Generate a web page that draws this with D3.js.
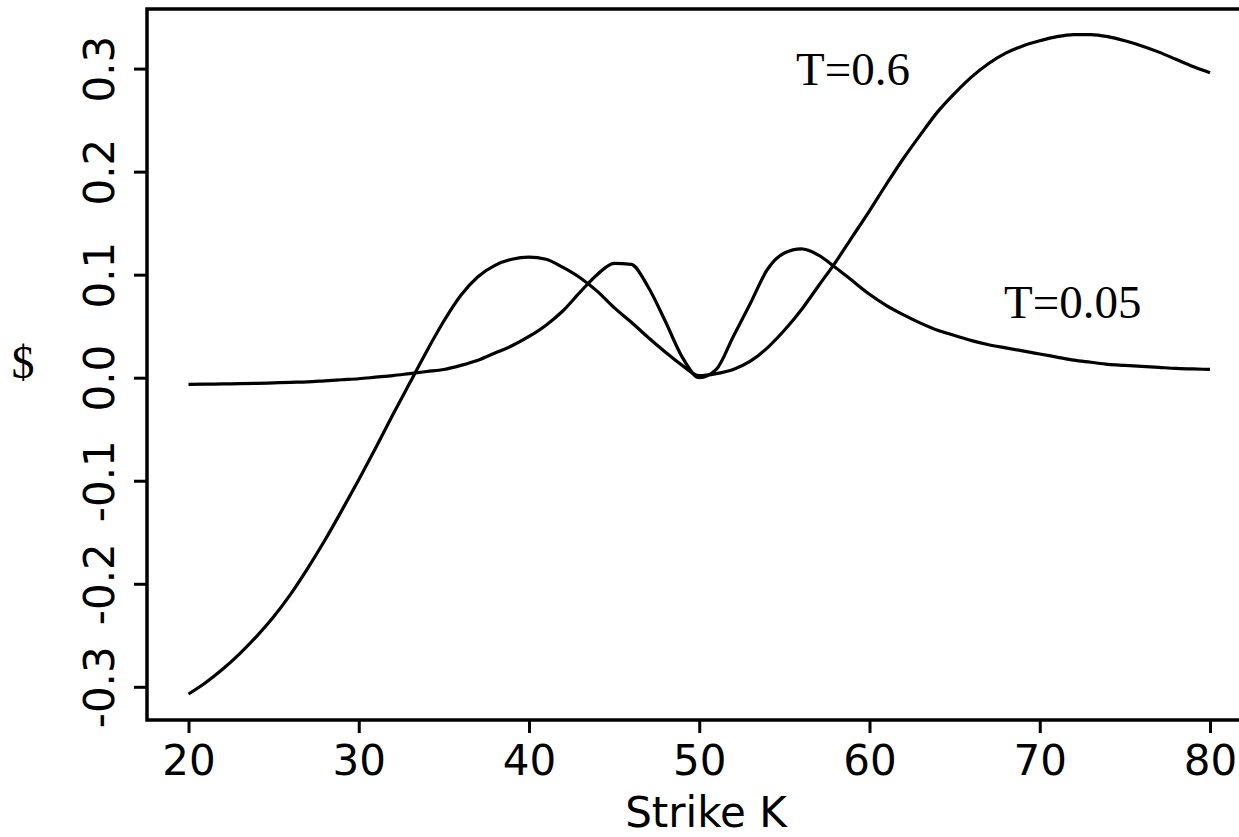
<!DOCTYPE html>
<html>
<head>
<meta charset="utf-8">
<script src="https://cdn.jsdelivr.net/npm/d3@7"></script>
<style>
  html, body { margin: 0; padding: 0; background: #fff; }
  svg { display: block; }
</style>
</head>
<body>
<svg id="chart" width="1239" height="837"></svg>
<script>
// Strike grid
const strikes = d3.range(20, 81, 1);

// Short maturity (T = 0.05)
const shortValues = [
  -0.0065, -0.0063, -0.006, -0.0058, -0.0055, -0.005, -0.0045, -0.004, -0.003, -0.002,
  -0.001, 0.0005, 0.002, 0.004, 0.006, 0.008, 0.012, 0.017, 0.024, 0.031,
  0.040, 0.051, 0.065, 0.083, 0.100, 0.111, 0.110, 0.088, 0.055, 0.020,
  0.000, 0.008, 0.040, 0.072, 0.105, 0.121, 0.125, 0.119, 0.107, 0.094,
  0.081, 0.070, 0.061, 0.053, 0.046, 0.041, 0.036, 0.032, 0.029, 0.026,
  0.023, 0.020, 0.017, 0.015, 0.013, 0.012, 0.011, 0.010, 0.009, 0.0085,
  0.008
];

// Longer maturity (T = 0.6)
const longValues = [
  -0.307, -0.296, -0.283, -0.268, -0.251, -0.232, -0.210, -0.185, -0.158, -0.129,
  -0.099, -0.068, -0.036, -0.005, 0.026, 0.055, 0.080, 0.098, 0.109, 0.115,
  0.117, 0.115, 0.107, 0.097, 0.084, 0.068, 0.054, 0.039, 0.025, 0.012,
  0.002, 0.004, 0.008, 0.016, 0.029, 0.046, 0.066, 0.089, 0.112, 0.137,
  0.162, 0.188, 0.213, 0.236, 0.258, 0.276, 0.292, 0.305, 0.315, 0.322,
  0.327, 0.331, 0.333, 0.333, 0.331, 0.327, 0.322, 0.316, 0.309, 0.302,
  0.296
];

const xTicks = [20, 30, 40, 50, 60, 70, 80];
const yTicks = [-0.3, -0.2, -0.1, 0.0, 0.1, 0.2, 0.3];
const seriesLabels = ["T=0.6", "T=0.05"];
const xTitle = "Strike K";
const yTitle = "$";

const svg = d3.select("#chart");

const x = d3.scaleLinear().domain([20, 80]).range([188.5, 1210]);
const y = d3.scaleLinear().domain([-0.3, 0.3]).range([686.8, 68.6]);

const frame = { left: 147, top: 9, right: 1250, bottom: 720 };
const tickFont = "'DejaVu Sans', Verdana, sans-serif";

// Plot frame (right edge runs past the canvas)
svg.append("path")
  .attr("d", `M${frame.right},${frame.top}H${frame.left}V${frame.bottom}H${frame.right}`)
  .attr("fill", "none")
  .attr("stroke", "#000")
  .attr("stroke-width", 3.5);

// Bottom axis
const xAxis = svg.append("g")
  .attr("transform", `translate(0,${frame.bottom})`)
  .call(d3.axisBottom(x).tickValues(xTicks).tickSize(13).tickSizeOuter(0).tickFormat(d3.format("d")));
xAxis.select(".domain").remove();
xAxis.selectAll(".tick line").attr("stroke", "#000").attr("stroke-width", 3);
xAxis.selectAll(".tick text")
  .attr("y", 55)
  .attr("dy", 0)
  .style("font-family", tickFont)
  .style("font-size", "42px")
  .attr("fill", "#000");

// Left axis, labels rotated
const yAxis = svg.append("g")
  .attr("transform", `translate(${frame.left},0)`)
  .call(d3.axisLeft(y).tickValues(yTicks).tickSize(13).tickSizeOuter(0).tickFormat(d => d3.format(".1f")(d).replace("−", "-")));
yAxis.select(".domain").remove();
yAxis.selectAll(".tick line").attr("stroke", "#000").attr("stroke-width", 3);
yAxis.selectAll(".tick text")
  .attr("x", 0).attr("dy", 0)
  .attr("text-anchor", "middle")
  .attr("transform", "translate(-33,0) rotate(-90)")
  .style("font-family", tickFont)
  .style("font-size", "42px")
  .attr("fill", "#000");

// Axis titles
svg.append("text")
  .attr("x", 706).attr("y", 827)
  .attr("text-anchor", "middle")
  .style("font-family", tickFont)
  .style("font-size", "42px")
  .text(xTitle);

svg.append("text")
  .attr("x", 23).attr("y", 378)
  .attr("text-anchor", "middle")
  .style("font-family", "'Liberation Serif', 'Times New Roman', serif")
  .style("font-size", "46px")
  .text(yTitle);

// Curves
const line = d3.line()
  .x(d => x(d[0]))
  .y(d => y(d[1]))
  .curve(d3.curveMonotoneX);

[longValues, shortValues].forEach(vals => {
  svg.append("path")
    .datum(strikes.map((k, i) => [k, vals[i]]))
    .attr("d", line)
    .attr("fill", "none")
    .attr("stroke", "#000")
    .attr("stroke-width", 3.2)
    .attr("stroke-linejoin", "round");
});

// Series labels
const labelFont = "'Liberation Serif', 'Times New Roman', serif";
svg.append("text")
  .attr("x", 796).attr("y", 85)
  .style("font-family", labelFont)
  .style("font-size", "47px")
  .text(seriesLabels[0]);
svg.append("text")
  .attr("x", 1004).attr("y", 318)
  .style("font-family", labelFont)
  .style("font-size", "47px")
  .text(seriesLabels[1]);
</script>
</body>
</html>
